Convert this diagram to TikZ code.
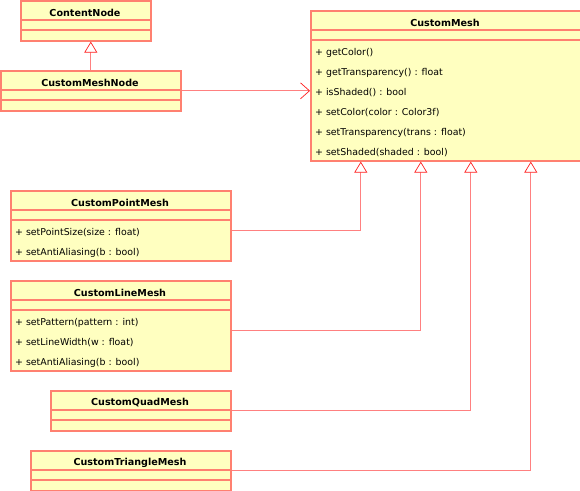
\documentclass[tikz,border=0pt]{standalone}
\usepackage{fontspec}
\setmainfont{DejaVu Sans}
\usetikzlibrary{arrows.meta}
\definecolor{bord}{RGB}{255,128,112}
\definecolor{fillc}{RGB}{255,255,192}
\definecolor{linec}{RGB}{255,128,128}
\definecolor{headc}{RGB}{255,30,30}
\begin{document}
\begin{tikzpicture}[x=1pt,y=-1pt,
  classbox/.style={draw=bord,fill=fillc,line width=1.6pt,rectangle,anchor=north west,inner sep=0pt},
  title/.style={font=\fontsize{9.6}{11}\selectfont\bfseries,inner sep=0pt},
  meth/.style={font=\fontsize{9.4}{11}\selectfont,anchor=west,inner sep=0pt},
  sep/.style={draw=bord,line width=1.6pt},
  inh/.style={draw=linec,line width=1.1pt,-{Triangle[open,length=11pt,width=13pt,color=headc,line width=0.7pt,fill=white]}},
  assoc/.style={draw=linec,line width=1.1pt,-{Straight Barb[length=9pt,width=16pt,color=headc,line width=0.7pt]}}]
\useasboundingbox (0,0) rectangle (580,490);

% ContentNode
\node[classbox,minimum width=130pt,minimum height=40pt] (content) at (20,0) {};
\node[title] (contentT) at (85,13) {ContentNode};
\draw[sep] (20,20) -- (150,20) (20,30) -- (150,30);

% CustomMeshNode
\node[classbox,minimum width=180pt,minimum height=40pt] (cmn) at (0,70) {};
\node[title] (cmnT) at (90,83) {CustomMeshNode};
\draw[sep] (0,90) -- (180,90) (0,100) -- (180,100);

% CustomMesh
\node[classbox,minimum width=270pt,minimum height=150pt] (mesh) at (310,10) {};
\node[title] (meshT) at (445,23) {CustomMesh};
\draw[sep] (310,30) -- (580,30) (310,40) -- (580,40);
\node[meth] (m1) at (315,53) {+ getColor()};
\node[meth] (m2) at (315,73) {+ getTransparency() : float};
\node[meth] (m3) at (315,93) {+ isShaded() : bool};
\node[meth] (m4) at (315,113) {+ setColor(color : Color3f)};
\node[meth] (m5) at (315,133) {+ setTransparency(trans : float)};
\node[meth] (m6) at (315,153) {+ setShaded(shaded : bool)};

% CustomPointMesh
\node[classbox,minimum width=220pt,minimum height=70pt] (point) at (10,190) {};
\node[title] (pointT) at (120,203) {CustomPointMesh};
\draw[sep] (10,210) -- (230,210) (10,220) -- (230,220);
\node[meth] (p1) at (15,233) {+ setPointSize(size : float)};
\node[meth] (p2) at (15,253) {+ setAntiAliasing(b : bool)};

% CustomLineMesh
\node[classbox,minimum width=220pt,minimum height=90pt] (line) at (10,280) {};
\node[title] (lineT) at (120,293) {CustomLineMesh};
\draw[sep] (10,300) -- (230,300) (10,310) -- (230,310);
\node[meth] (l1) at (15,323) {+ setPattern(pattern : int)};
\node[meth] (l2) at (15,343) {+ setLineWidth(w : float)};
\node[meth] (l3) at (15,363) {+ setAntiAliasing(b : bool)};

% CustomQuadMesh
\node[classbox,minimum width=180pt,minimum height=40pt] (quad) at (50,390) {};
\node[title] (quadT) at (140,403) {CustomQuadMesh};
\draw[sep] (50,410) -- (230,410) (50,420) -- (230,420);

% CustomTriangleMesh
\node[classbox,minimum width=200pt,minimum height=40pt] (tri) at (30,450) {};
\node[title] (triT) at (130,463) {CustomTriangleMesh};
\draw[sep] (30,470) -- (230,470) (30,480) -- (230,480);

% connectors
\draw[inh] (cmn.north) -- (cmn.north |- content.south);
\draw[assoc] (cmn.east) -- (cmn.east -| mesh.west);
\draw[inh] ([yshift=-5pt]point.east) -| ([xshift=-85pt]mesh.south);
\draw[inh] ([yshift=-5pt]line.east) -| ([xshift=-25pt]mesh.south);
\draw[inh] (quad.east) -| ([xshift=25pt]mesh.south);
\draw[inh] (tri.east) -| ([xshift=85pt]mesh.south);
\end{tikzpicture}
\end{document}
